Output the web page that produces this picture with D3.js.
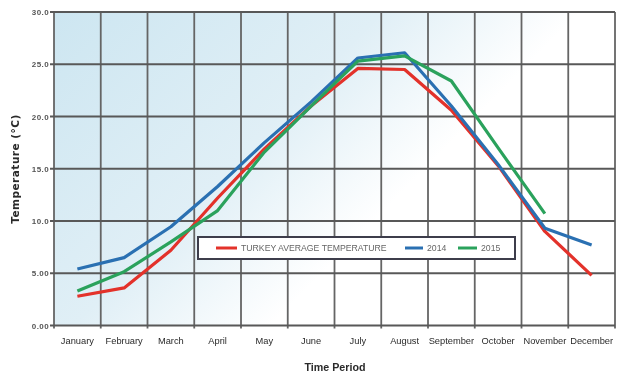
<!DOCTYPE html>
<html>
<head>
<meta charset="utf-8">
<script src="https://cdn.jsdelivr.net/npm/d3@7"></script>
<style>
  html, body { margin: 0; padding: 0; background: #fff; }
  svg { display: block; }
</style>
</head>
<body>
<svg id="chart" width="620" height="378"></svg>
<script>
// Monthly temperatures (°C)
const months = ["January", "February", "March", "April", "May", "June",
                "July", "August", "September", "October", "November", "December"];
const turkeyAverage = [2.8, 3.6, 7.2, 12.2, 16.9, 21.0, 24.6, 24.5, 20.6, 15.3, 9.0, 4.8];
const temps2014 = [5.4, 6.5, 9.45, 13.3, 17.5, 21.4, 25.6, 26.1, 21.0, 15.4, 9.3, 7.7];
const temps2015 = [3.3, 5.15, 8.0, 11.0, 16.6, 21.0, 25.3, 25.8, 23.4, 17.0, 10.7];
const yTicks = [0, 5, 10, 15, 20, 25, 30];
const yTickLabels = ["0.00", "5.00", "10.0", "15.0", "20.0", "25.0", "30.0"];

const seriesList = [
  { name: "TURKEY AVERAGE TEMPERATURE", values: turkeyAverage, color: "#e3302a" },
  { name: "2014", values: temps2014, color: "#2a70b2" },
  { name: "2015", values: temps2015, color: "#2ca25c" }
];

const svg = d3.select("#chart");
const plot = { left: 54, right: 615, top: 12, bottom: 325.5 };

const x = d3.scaleBand().domain(months).range([plot.left, plot.right]).padding(0);
const y = d3.scaleLinear().domain([0, 30]).range([plot.bottom, plot.top]);

// plot background gradient
const defs = svg.append("defs");
const grad = defs.append("linearGradient")
  .attr("id", "plotBg").attr("x1", 0).attr("y1", 0).attr("x2", 1).attr("y2", 0.55);
grad.append("stop").attr("offset", 0).attr("stop-color", "#cde6f1");
grad.append("stop").attr("offset", 0.45).attr("stop-color", "#e0eff6");
grad.append("stop").attr("offset", 0.72).attr("stop-color", "#ffffff");
grad.append("stop").attr("offset", 1).attr("stop-color", "#ffffff");

const soft = defs.append("filter").attr("id", "soft");
soft.append("feGaussianBlur").attr("stdDeviation", 0.45);

svg.append("rect")
  .attr("x", plot.left).attr("y", plot.top)
  .attr("width", plot.right - plot.left).attr("height", plot.bottom - plot.top)
  .attr("fill", "url(#plotBg)");

const grid = svg.append("g").attr("filter", "url(#soft)");

// vertical grid lines at month boundaries
const bounds = months.map(m => x(m)).concat([plot.right]);
grid.selectAll("line.v").data(bounds).join("line")
  .attr("class", "v")
  .attr("x1", d => d).attr("x2", d => d)
  .attr("y1", plot.top).attr("y2", plot.bottom + 3)
  .attr("stroke", "#656565").attr("stroke-width", 1.8);

// horizontal grid lines at ticks
grid.selectAll("line.h").data(yTicks).join("line")
  .attr("class", "h")
  .attr("x1", plot.left - 4).attr("x2", plot.right)
  .attr("y1", d => y(d)).attr("y2", d => y(d))
  .attr("stroke", "#585858").attr("stroke-width", 2.2);

// y axis labels
const yAxis = d3.axisLeft(y).tickValues(yTicks)
  .tickFormat((d, i) => yTickLabels[i]).tickSize(0).tickPadding(5);
const gy = svg.append("g").attr("transform", `translate(${plot.left},0)`).call(yAxis);
gy.select(".domain").remove();
gy.selectAll("text")
  .attr("font-family", "Liberation Sans, Arial, sans-serif")
  .attr("font-size", 8).attr("font-weight", "bold")
  .attr("letter-spacing", 0.4)
  .attr("fill", "#555").attr("filter", "url(#soft)");

// x axis labels
const xAxis = d3.axisBottom(x).tickSize(0).tickPadding(12);
const gx = svg.append("g").attr("transform", `translate(0,${plot.bottom})`).call(xAxis);
gx.select(".domain").remove();
gx.selectAll("text")
  .attr("font-family", "Liberation Sans, Arial, sans-serif")
  .attr("font-size", 9.3)
  .attr("fill", "#2a2a2a").attr("filter", "url(#soft)");

// series lines
const line = d3.line().x((d, i) => x(months[i]) + x.bandwidth() / 2).y(d => y(d));
svg.append("g").selectAll("path").data(seriesList).join("path")
  .attr("d", s => line(s.values))
  .attr("fill", "none")
  .attr("stroke", s => s.color)
  .attr("stroke-width", 3.2)
  .attr("stroke-linejoin", "round")
  .attr("filter", "url(#soft)");

// axis titles
svg.append("text")
  .attr("x", (plot.left + plot.right) / 2 + 0.5).attr("y", 371)
  .attr("text-anchor", "middle")
  .attr("font-family", "Liberation Sans, Arial, sans-serif")
  .attr("font-size", 10.7).attr("font-weight", "bold")
  .attr("fill", "#2a2a2a").attr("filter", "url(#soft)")
  .text("Time Period");

svg.append("text")
  .attr("transform", "translate(19,169) rotate(-90)")
  .attr("text-anchor", "middle")
  .attr("font-family", "DejaVu Sans, sans-serif")
  .attr("font-size", 10.5).attr("font-weight", "bold")
  .attr("letter-spacing", 0.5)
  .attr("fill", "#2a2a2a").attr("filter", "url(#soft)")
  .text("Temperature (°C)");

// legend
const legend = svg.append("g").attr("filter", "url(#soft)");
legend.append("rect")
  .attr("x", 198).attr("y", 237).attr("width", 317).attr("height", 22)
  .attr("fill", "#fff").attr("stroke", "#3c3d4c").attr("stroke-width", 2);
const legendItems = [
  { s: seriesList[0], x0: 216, x1: 237 },
  { s: seriesList[1], x0: 405, x1: 423 },
  { s: seriesList[2], x0: 458, x1: 477 }
];
legendItems.forEach(it => {
  legend.append("line")
    .attr("x1", it.x0).attr("x2", it.x1).attr("y1", 248).attr("y2", 248)
    .attr("stroke", it.s.color).attr("stroke-width", 3);
  legend.append("text")
    .attr("x", it.x1 + 4).attr("y", 251)
    .attr("font-family", "Liberation Sans, Arial, sans-serif")
    .attr("font-size", 8.7).attr("fill", "#666")
    .text(it.s.name);
});
</script>
</body>
</html>
